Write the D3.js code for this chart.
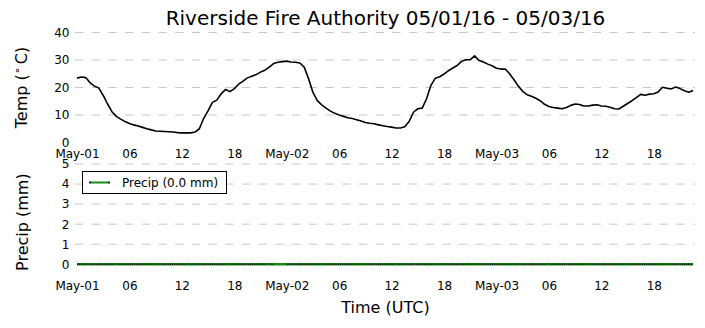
<!DOCTYPE html>
<html>
<head>
<meta charset="utf-8">
<script src="https://cdn.jsdelivr.net/npm/d3@7"></script>
<style>
    body { margin: 0; background: #fff; }
    svg { display: block; font-family: "DejaVu Sans", sans-serif; }
    .grid { stroke: #c8c8c8; stroke-width: 1; stroke-dasharray: 8.3, 8.4; }
    .tick text { font-size: 12px; fill: #000; font-family: "DejaVu Sans", sans-serif; }
    .axis_label { font-size: 16px; fill: #000; }
</style>
</head>
<body>
<svg id="chart" width="705" height="328"></svg>
<script>
// temperature every 30 minutes from May-01 00:00 UTC
let sampleStep = 0.5;
let temps = [
    23.4, 23.8, 23.6, 21.7, 20.5, 19.8, 17.1, 14.0, 11.2, 9.5,
    8.5, 7.6, 6.9, 6.4, 6.0, 5.5, 5.0, 4.6, 4.2, 4.1,
    4.0, 3.9, 3.8, 3.6, 3.5, 3.5, 3.5, 3.8, 5.0, 8.8,
    11.6, 14.6, 15.4, 17.7, 19.3, 18.5, 19.6, 21.2, 22.3, 23.5,
    24.1, 24.7, 25.6, 26.3, 27.4, 28.7, 29.2, 29.4, 29.6, 29.3,
    29.2, 28.9, 27.4, 23.2, 18.2, 15.2, 13.7, 12.5, 11.4, 10.6,
    10.0, 9.5, 9.0, 8.7, 8.3, 7.8, 7.3, 7.0, 6.8, 6.4,
    6.1, 5.8, 5.6, 5.3, 5.3, 5.7, 7.6, 11.0, 12.3, 12.5,
    15.9, 20.8, 23.4, 23.9, 24.9, 26.1, 27.1, 28.0, 29.5, 30.1,
    30.1, 31.5, 29.8, 29.3, 28.5, 27.9, 27.0, 26.7, 26.7, 25.0,
    22.8, 20.5, 18.6, 17.4, 16.8, 16.1, 15.2, 13.9, 13.1, 12.7,
    12.5, 12.3, 12.7, 13.5, 14.0, 13.8, 13.3, 13.3, 13.6, 13.7,
    13.3, 13.2, 12.8, 12.3, 12.2, 13.2, 14.2, 15.2, 16.3, 17.5,
    17.2, 17.6, 17.7, 18.4, 20.1, 19.7, 19.5, 20.2, 19.6, 18.8,
    18.3, 18.9
];

// precipitation (mm), same 30 minute steps, null = no reading
let precip = [
    0, 0, 0, 0, 0, 0, 0, 0, 0, 0, 0, 0, 0, 0, 0, 0, 0, 0, 0, 0, 0, 0, 0, 0,
    0, 0, 0, 0, 0, 0, 0, 0, 0, 0, 0, 0, 0, 0, 0, 0, 0, 0, 0, 0, 0, 0, null, null,
    0, 0, 0, 0, 0, 0, 0, 0, 0, 0, 0, 0, 0, 0, 0, 0, 0, 0, 0, 0, 0, 0, 0, 0,
    0, 0, 0, 0, 0, 0, 0, 0, 0, 0, 0, 0, 0, 0, 0, 0, 0, 0, 0, 0, 0, 0, 0, 0,
    0, 0, 0, 0, 0, 0, 0, 0, 0, 0, 0, 0, 0, 0, 0, 0, 0, 0, 0, 0, 0, 0, 0, 0,
    0, 0, 0, 0, 0, 0, 0, 0, 0, 0, 0, 0, 0, 0, 0, 0, 0, 0, 0, 0, 0, 0
];

let tickHours = [0, 6, 12, 18, 24, 30, 36, 42, 48, 54, 60, 66];
let tickLabels = ["May-01", "06", "12", "18", "May-02", "06", "12", "18", "May-03", "06", "12", "18"];
let tempTicks = [0, 10, 20, 30, 40];
let precipTicks = [0, 1, 2, 3, 4, 5];
let legendLabel = "Precip (0.0 mm)";

let svg = d3.select("#chart");

let xScale = d3.scaleLinear()
    .domain([0, 70.6])
    .range([77, 694]);

let yTemp = d3.scaleLinear()
    .domain([0, 40])
    .range([142.5, 32.5]);

let yPrecip = d3.scaleLinear()
    .domain([0, 5])
    .range([264.3, 164]);

let tempData = temps.map((v, i) => [i * sampleStep, v]),
    precipData = precip.map((v, i) => [i * sampleStep, v]);

function drawGrid(yScale, ticks) {
    svg.append("g")
        .selectAll("line")
        .data(ticks.filter(d => d > 0))
        .enter()
        .append("line")
        .attr("class", "grid")
        .attr("x1", xScale.range()[0] - 2)
        .attr("x2", xScale.range()[1] + 1)
        .attr("y1", d => yScale(d))
        .attr("y2", d => yScale(d));
}

function drawAxes(yScale, ticks, xLabelY) {
    let y_axis = svg.append("g")
        .attr("transform", "translate(69.5,0)")
        .call(d3.axisLeft(yScale)
            .tickValues(ticks)
            .tickFormat(d3.format("d"))
            .tickSize(0)
            .tickPadding(0));
    y_axis.select(".domain").remove();

    let x_axis = svg.append("g")
        .attr("transform", "translate(0," + xLabelY + ")")
        .call(d3.axisBottom(xScale)
            .tickValues(tickHours)
            .tickFormat((d, i) => tickLabels[i])
            .tickSize(0)
            .tickPadding(0));
    x_axis.select(".domain").remove();
}

drawGrid(yTemp, tempTicks);
drawGrid(yPrecip, precipTicks);
drawAxes(yTemp, tempTicks, 149.5);
drawAxes(yPrecip, precipTicks, 281.5);

// temperature
svg.append("path")
    .attr("d", d3.line()
        .x(d => xScale(d[0]))
        .y(d => yTemp(d[1]))(tempData))
    .attr("fill", "none")
    .attr("stroke", "#000")
    .attr("stroke-width", 1.6)
    .attr("stroke-linejoin", "round");

// precipitation: green line with black point markers
svg.append("path")
    .attr("d", d3.line()
        .x(d => xScale(d[0]))
        .y(d => yPrecip(d[1] === null ? 0 : d[1]))(precipData))
    .attr("fill", "none")
    .attr("stroke", "#1a8a1a")
    .attr("stroke-width", 2.5);

svg.append("path")
    .attr("d", d3.line()
        .defined(d => d[1] !== null)
        .x(d => xScale(d[0]))
        .y(d => yPrecip(d[1]))(precipData))
    .attr("fill", "none")
    .attr("stroke", "#111")
    .attr("stroke-width", 1.6)
    .attr("stroke-dasharray", "1,0.9");

// legend
let legend = svg.append("g")
    .attr("transform", "translate(82.5,171.5)");

legend.append("rect")
    .attr("width", 144)
    .attr("height", 22)
    .attr("fill", "#fff")
    .attr("stroke", "#000")
    .attr("stroke-width", 1);

legend.append("line")
    .attr("x1", 7)
    .attr("x2", 27)
    .attr("y1", 11)
    .attr("y2", 11)
    .attr("stroke", "#1a8a1a")
    .attr("stroke-width", 2);

legend.selectAll(".marker")
    .data([7.5, 26.5])
    .enter()
    .append("circle")
    .attr("cx", d => d)
    .attr("cy", 11)
    .attr("r", 1)
    .attr("fill", "#111");

legend.append("text")
    .attr("x", 39.5)
    .attr("y", 15.3)
    .style("font-size", "12px")
    .text(legendLabel);

// titles
let x_mid = (xScale.range()[0] + xScale.range()[1]) / 2;

svg.append("text")
    .attr("x", x_mid)
    .attr("y", 25)
    .attr("text-anchor", "middle")
    .style("font-size", "20px")
    .text("Riverside Fire Authority 05/01/16 - 05/03/16");

svg.append("text")
    .attr("class", "axis_label")
    .attr("x", x_mid)
    .attr("y", 313)
    .attr("text-anchor", "middle")
    .text("Time (UTC)");

let temp_label = svg.append("text")
    .attr("class", "axis_label")
    .attr("transform", "translate(26.5," + yTemp(20) + ") rotate(-90)")
    .attr("text-anchor", "middle");
temp_label.append("tspan").text("Temp (");
temp_label.append("tspan")
    .attr("dy", -6)
    .style("font-size", "11px")
    .text("\u2218");
temp_label.append("tspan")
    .attr("dy", 6)
    .text("\u2009C)");

svg.append("text")
    .attr("class", "axis_label")
    .attr("transform", "translate(27.5," + yPrecip(2.1) + ") rotate(-90)")
    .attr("text-anchor", "middle")
    .text("Precip (mm)");
</script>
</body>
</html>
